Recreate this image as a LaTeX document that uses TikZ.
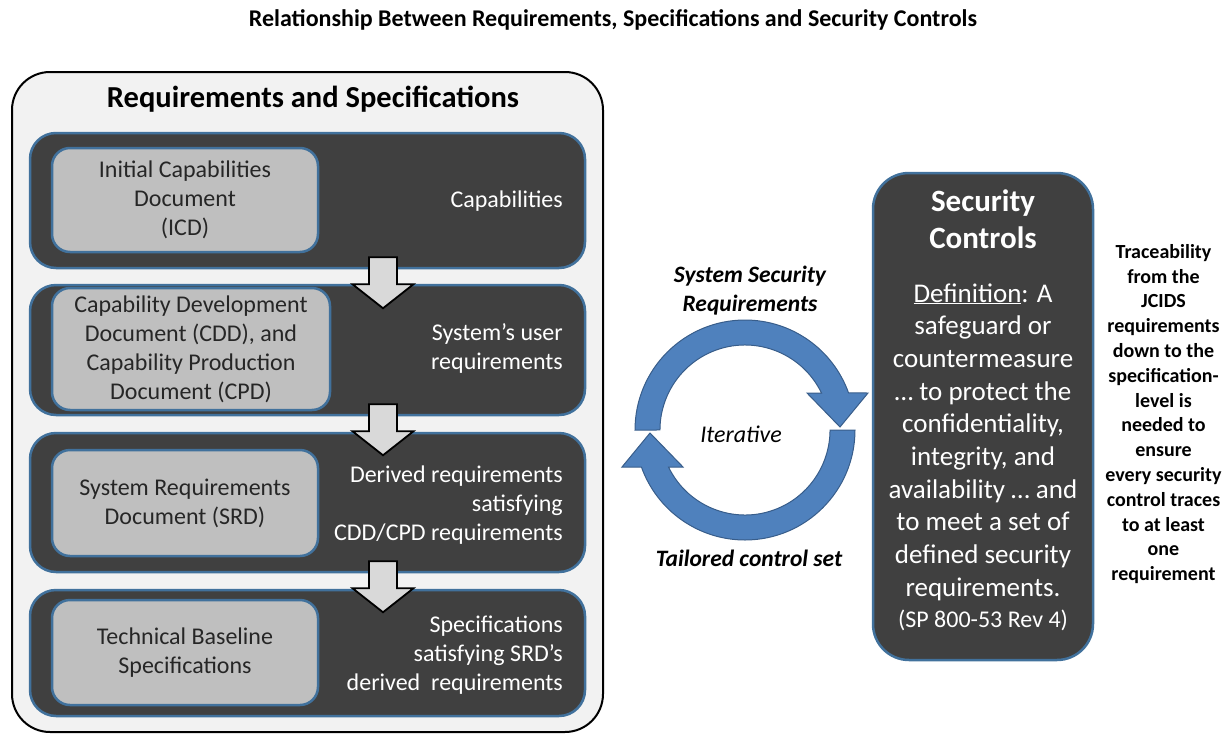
\documentclass[tikz,border=0pt]{standalone}
\usepackage{fontspec}
\setmainfont{Carlito}
\usepackage{tikz}
\definecolor{darkfill}{HTML}{404040}
\definecolor{edgeblue}{HTML}{41719C}
\definecolor{docgray}{HTML}{BFBFBF}
\definecolor{panelgray}{HTML}{F2F2F2}
\definecolor{cycleblue}{HTML}{4F81BD}
\definecolor{cycleedge}{HTML}{385D8A}
\definecolor{arrowgray}{HTML}{D9D9D9}
\newcommand{\fsz}[2]{\fontsize{#1}{#2}\selectfont}

\begin{document}
\begin{tikzpicture}[x=1pt,y=-1pt,
    panel/.style={draw=black,line width=2pt,fill=panelgray,rounded corners=38pt,
      minimum width=591pt,minimum height=660pt,inner sep=0pt},
    stage/.style={draw=edgeblue,line width=2.5pt,fill=darkfill,rounded corners=26pt,
      minimum width=555pt,inner sep=0pt},
    doc/.style={draw=edgeblue,line width=2.5pt,fill=docgray,rounded corners=18pt,
      inner sep=0pt,align=center,text=black!85,font=\fsz{24}{29}},
    note/.style={anchor=east,inner sep=0pt,align=right,text=white,font=\fsz{24}{29}},
    blockarrow/.style={draw=black,line width=1.8pt,fill=arrowgray,line join=miter},
    cyclearrow/.style={draw=cycleedge,line width=1pt,fill=cycleblue}]
    \useasboundingbox (0,0) rectangle (1227,734);

    \node[font=\fsz{24}{29}\bfseries] (title) at (613,20)
      {Relationship Between Requirements, Specifications and Security Controls};

    % left panel
    \node[panel] (reqspec) at (307.5,402) {};
    \node[font=\fsz{30.5}{36}\bfseries] (reqhead) at (313,99) {Requirements and Specifications};

    \node[stage,minimum height=135pt] (icdrow) at (307.5,200.5) {};
    \node[stage,minimum height=130pt] (cddrow) at (307.5,350) {};
    \node[stage,minimum height=139pt] (srdrow) at (307.5,502.5) {};
    \node[stage,minimum height=126pt] (tbsrow) at (307.5,653) {};

    \node[doc,minimum width=266pt,minimum height=104pt] (icd) at (185,200)
      {Initial Capabilities\\Document\\(ICD)};
    \node[doc,minimum width=278pt,minimum height=122pt] (cdd) at (191,349)
      {Capability Development\\Document (CDD), and\\Capability Production\\Document (CPD)};
    \node[doc,minimum width=266pt,minimum height=106pt] (srd) at (185,503)
      {System Requirements\\Document (SRD)};
    \node[doc,minimum width=266pt,minimum height=105pt] (tbs) at (185,652.5)
      {Technical Baseline\\Specifications};

    \node[note] (capnote) at (563,201) {Capabilities};
    \node[note] (cddnote) at (563,348) {System’s user\\requirements};
    \node[note] (srdnote) at (563,505) {Derived requirements\\satisfying\\CDD/CPD requirements};
    \node[note] (tbsnote) at (563,655) {Specifications\\satisfying SRD’s\\derived\ \ requirements};

    % down arrows between the rows
    \coordinate (axis) at (383,0);
    \foreach \s in {icdrow,cddrow,srdrow}
      \draw[blockarrow] (\s.south -| axis) ++(-14,-12) -- ++(28,0) -- ++(0,27)
        -- ++(16.5,0) -- ++(-30.5,24) -- ++(-30.5,-24) -- ++(16.5,0) -- cycle;

    % iterative cycle
    \coordinate (hub) at (745,430);
    \foreach \a in {0,180}
      \draw[cyclearrow,rotate around={\a:(hub)}] (635,430)
        arc[start angle=180,end angle=340.3,radius=110] -- (868,393) -- (840,427)
        -- (807,393) -- (821.5,393) arc[start angle=334.2,end angle=180,radius=85] -- cycle;
    \node[font=\fsz{23.5}{29}\bfseries\itshape,align=center] (ssr) at (750,291)
      {System Security\\Requirements};
    \node[font=\fsz{24}{29}\itshape] (iter) at (741,434) {Iterative};
    \node[font=\fsz{23.5}{29}\bfseries\itshape] (tcs) at (749,558) {Tailored\ control set};

    % security controls
    \node[stage,minimum width=220pt,minimum height=487pt,rounded corners=36pt] (sc) at (983,416.5) {};
    \node[text=white,font=\fsz{31}{37}\bfseries,align=center] (schead) at (983,219.5)
      {Security\\Controls};
    \node[text=white,font=\fsz{27}{32.7},align=center] (scdef) at (983,442)
      {\underline{Definition}: A\\safeguard or\\countermeasure\\… to protect the\\confidentiality,\\integrity, and\\availability … and\\to meet a set of\\defined\ security\\requirements.};
    \node[text=white,font=\fsz{24}{29}] (scref) at (983,620) {(SP 800-53 Rev 4)};

    \node[font=\fsz{20}{24.8}\bfseries,align=center] (trace) at (1163.5,414)
      {Traceability\\from the\\JCIDS\\requirements\\down to the\\specification-\\level is\\needed to\\ensure\\every security\\control traces\\to at least\\one\\requirement};
\end{tikzpicture}
\end{document}
